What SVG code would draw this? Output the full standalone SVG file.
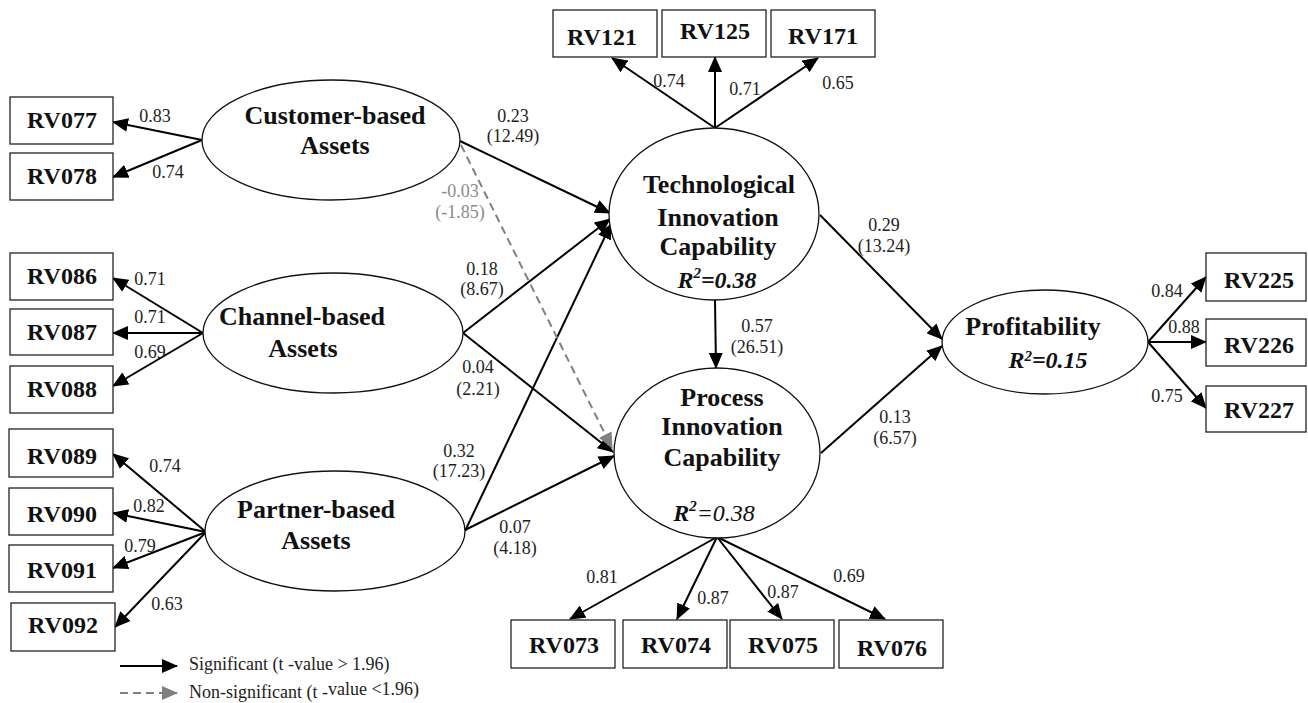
<svg xmlns="http://www.w3.org/2000/svg" width="1308" height="703" viewBox="0 0 1308 703">
  <style>
    .box { fill: #fff; stroke: #222; stroke-width: 1.3; }
    .lat { fill: #fff; stroke: #111; stroke-width: 1.3; }
    text { font-family: 'Liberation Serif', 'Tinos', 'Times New Roman', 'DejaVu Serif', serif; }
    .bt { font-weight: bold; font-size: 24px; fill: #111; text-anchor: middle; }
    .lt { font-weight: bold; font-size: 26px; fill: #111; text-anchor: middle; }
    .r2 { font-weight: bold; font-style: italic; font-size: 24px; fill: #111; text-anchor: middle; }
    .num { font-size: 18px; fill: #222; text-anchor: middle; }
    .ng { fill: #8a8a8a; }
    .leg { font-size: 18px; fill: #222; }
    .sol { stroke: #000; stroke-width: 2; fill: none; marker-end: url(#ah); }
    .dash { stroke: #808080; stroke-width: 2; fill: none; stroke-dasharray: 8 5; marker-end: url(#ahg); }
  </style>
  <defs>
    <marker id="ah" markerUnits="userSpaceOnUse" markerWidth="16" markerHeight="14" viewBox="0 0 16 14" refX="15" refY="7" orient="auto">
      <path d="M0,0 L16,7 L0,14 z" fill="#000"/>
    </marker>
    <marker id="ahg" markerUnits="userSpaceOnUse" markerWidth="16" markerHeight="14" viewBox="0 0 16 14" refX="15" refY="7" orient="auto">
      <path d="M0,0 L16,7 L0,14 z" fill="#808080"/>
    </marker>
  </defs>

  <!-- connectors -->
  <g id="connectors">
    <!-- measurement paths -->
    <line class="sol" x1="202" y1="140" x2="113" y2="122"/>
    <line class="sol" x1="202" y1="140" x2="113" y2="177"/>
    <line class="sol" x1="203" y1="333" x2="113" y2="278"/>
    <line class="sol" x1="203" y1="333" x2="113" y2="333"/>
    <line class="sol" x1="203" y1="333" x2="113" y2="386"/>
    <line class="sol" x1="206" y1="532" x2="113" y2="454"/>
    <line class="sol" x1="206" y1="532" x2="113" y2="513"/>
    <line class="sol" x1="206" y1="532" x2="113" y2="568"/>
    <line class="sol" x1="206" y1="532" x2="115" y2="627"/>
    <line class="sol" x1="715" y1="128" x2="612" y2="58"/>
    <line class="sol" x1="715" y1="128" x2="715" y2="57"/>
    <line class="sol" x1="715" y1="128" x2="818" y2="58"/>
    <line class="sol" x1="717" y1="537" x2="570" y2="619"/>
    <line class="sol" x1="717" y1="537" x2="677" y2="619"/>
    <line class="sol" x1="717" y1="537" x2="782" y2="619"/>
    <line class="sol" x1="717" y1="537" x2="885" y2="619"/>
    <line class="sol" x1="1148" y1="342" x2="1206" y2="277"/>
    <line class="sol" x1="1148" y1="342" x2="1206" y2="342"/>
    <line class="sol" x1="1148" y1="342" x2="1206" y2="408"/>
    <!-- structural paths -->
    <line class="sol" x1="460" y1="141" x2="610" y2="213"/>
    <line class="sol" x1="463" y1="333" x2="610" y2="219"/>
    <line class="sol" x1="465" y1="531" x2="611" y2="224"/>
    <line class="sol" x1="463" y1="333" x2="613" y2="452"/>
    <line class="sol" x1="465" y1="530" x2="614" y2="456"/>
    <line class="dash" x1="461" y1="145" x2="612" y2="448"/>
    <line class="sol" x1="715" y1="300" x2="716" y2="368"/>
    <line class="sol" x1="820" y1="215" x2="942" y2="339"/>
    <line class="sol" x1="821" y1="453" x2="942" y2="346"/>
    <!-- legend -->
    <line class="sol" x1="120" y1="666" x2="177" y2="666"/>
    <line class="dash" x1="120" y1="693" x2="177" y2="693" stroke-dasharray="7 4"/>
  </g>

  <!-- path coefficients -->
  <g id="loadings">
    <text class="num" x="155" y="122">0.83</text>
    <text class="num" x="168" y="178">0.74</text>
    <text class="num" x="150" y="285">0.71</text>
    <text class="num" x="150" y="323">0.71</text>
    <text class="num" x="150" y="358">0.69</text>
    <text class="num" x="165" y="472">0.74</text>
    <text class="num" x="149" y="512">0.82</text>
    <text class="num" x="140" y="552">0.79</text>
    <text class="num" x="167" y="610">0.63</text>
    <text class="num" x="669" y="87">0.74</text>
    <text class="num" x="745" y="95">0.71</text>
    <text class="num" x="838" y="89">0.65</text>
    <text class="num" x="602" y="583">0.81</text>
    <text class="num" x="713" y="604">0.87</text>
    <text class="num" x="783" y="598">0.87</text>
    <text class="num" x="849" y="582">0.69</text>
    <text class="num" x="1167" y="297">0.84</text>
    <text class="num" x="1184" y="333">0.88</text>
    <text class="num" x="1167" y="402">0.75</text>
  </g>
  <g id="coefficients">
    <text class="num" x="513" y="122">0.23</text>
    <text class="num" x="513" y="142">(12.49)</text>
    <text class="num ng" x="460" y="197">-0.03</text>
    <text class="num ng" x="460" y="218">(-1.85)</text>
    <text class="num" x="482" y="275">0.18</text>
    <text class="num" x="482" y="295">(8.67)</text>
    <text class="num" x="478" y="373">0.04</text>
    <text class="num" x="478" y="395">(2.21)</text>
    <text class="num" x="459" y="457">0.32</text>
    <text class="num" x="459" y="477">(17.23)</text>
    <text class="num" x="515" y="533">0.07</text>
    <text class="num" x="515" y="554">(4.18)</text>
    <text class="num" x="757" y="332">0.57</text>
    <text class="num" x="757" y="353">(26.51)</text>
    <text class="num" x="884" y="231">0.29</text>
    <text class="num" x="884" y="252">(13.24)</text>
    <text class="num" x="895" y="423">0.13</text>
    <text class="num" x="895" y="444">(6.57)</text>
  </g>

  <!-- latent constructs -->
  <g id="customer-assets">
    <ellipse class="lat" cx="331" cy="140" rx="129" ry="60"/>
    <text class="lt" x="335" y="124">Customer-based</text>
    <text class="lt" x="335" y="154">Assets</text>
  </g>
  <g id="channel-assets">
    <ellipse class="lat" cx="333" cy="333" rx="130" ry="60"/>
    <text class="lt" x="302" y="325">Channel-based</text>
    <text class="lt" x="303" y="357">Assets</text>
  </g>
  <g id="partner-assets">
    <ellipse class="lat" cx="335" cy="531" rx="130" ry="60"/>
    <text class="lt" x="316" y="518">Partner-based</text>
    <text class="lt" x="316" y="549">Assets</text>
  </g>
  <g id="tech-innovation">
    <ellipse class="lat" cx="714" cy="214" rx="105" ry="86"/>
    <text class="lt" x="719" y="193" font-size="28">Technological</text>
    <text class="lt" x="718" y="226">Innovation</text>
    <text class="lt" x="718" y="255">Capability</text>
    <text class="r2" x="717" y="288">R<tspan font-size="15" dy="-10">2</tspan><tspan dy="10">=0.38</tspan></text>
  </g>
  <g id="process-innovation">
    <ellipse class="lat" cx="717" cy="453" rx="103" ry="85"/>
    <text class="lt" x="722" y="406">Process</text>
    <text class="lt" x="722" y="435">Innovation</text>
    <text class="lt" x="722" y="466">Capability</text>
    <text class="r2" x="714" y="521">R<tspan font-size="15" dy="-10">2</tspan><tspan dy="10" font-weight="normal">=0.38</tspan></text>
  </g>
  <g id="profitability">
    <ellipse class="lat" cx="1045" cy="342" rx="103" ry="52"/>
    <text class="lt" x="1033" y="335">Profitability</text>
    <text class="r2" x="1048" y="368">R<tspan font-size="15" dy="-7">2</tspan><tspan dy="7">=0.15</tspan></text>
  </g>

  <!-- indicators -->
  <g id="rv077"><rect class="box" x="10" y="97" width="103" height="47"/><text class="bt" x="62" y="128">RV077</text></g>
  <g id="rv078"><rect class="box" x="10" y="153" width="103" height="47"/><text class="bt" x="62" y="184">RV078</text></g>
  <g id="rv086"><rect class="box" x="10" y="253" width="103" height="47"/><text class="bt" x="62" y="284">RV086</text></g>
  <g id="rv087"><rect class="box" x="10" y="309" width="103" height="46"/><text class="bt" x="62" y="340">RV087</text></g>
  <g id="rv088"><rect class="box" x="10" y="366" width="103" height="47"/><text class="bt" x="62" y="397">RV088</text></g>
  <g id="rv089"><rect class="box" x="9" y="429" width="104" height="48"/><text class="bt" x="62" y="464">RV089</text></g>
  <g id="rv090"><rect class="box" x="9" y="488" width="104" height="47"/><text class="bt" x="62" y="522">RV090</text></g>
  <g id="rv091"><rect class="box" x="9" y="545" width="104" height="47"/><text class="bt" x="62" y="578">RV091</text></g>
  <g id="rv092"><rect class="box" x="11" y="603" width="104" height="48"/><text class="bt" x="63" y="633">RV092</text></g>

  <g id="rv121"><rect class="box" x="553" y="10" width="104" height="47"/><text class="bt" x="602" y="45">RV121</text></g>
  <g id="rv125"><rect class="box" x="662" y="10" width="104" height="47"/><text class="bt" x="715" y="39">RV125</text></g>
  <g id="rv171"><rect class="box" x="771" y="10" width="104" height="47"/><text class="bt" x="823" y="44">RV171</text></g>

  <g id="rv073"><rect class="box" x="511" y="620" width="104" height="48"/><text class="bt" x="564" y="653">RV073</text></g>
  <g id="rv074"><rect class="box" x="623" y="620" width="104" height="48"/><text class="bt" x="676" y="653">RV074</text></g>
  <g id="rv075"><rect class="box" x="730" y="620" width="104" height="48"/><text class="bt" x="783" y="653">RV075</text></g>
  <g id="rv076"><rect class="box" x="839" y="620" width="104" height="48"/><text class="bt" x="892" y="656">RV076</text></g>

  <g id="rv225"><rect class="box" x="1206" y="253" width="100" height="48"/><text class="bt" x="1259" y="288">RV225</text></g>
  <g id="rv226"><rect class="box" x="1206" y="319" width="100" height="47"/><text class="bt" x="1259" y="353">RV226</text></g>
  <g id="rv227"><rect class="box" x="1206" y="386" width="100" height="46"/><text class="bt" x="1259" y="418">RV227</text></g>

  <!-- legend -->
  <g id="legend">
    <text class="leg" x="189" y="670">Significant (t -value &gt; 1.96)</text>
    <text class="leg" x="189" y="698">Non-significant (t -<tspan dy="-3">value &lt;1.96)</tspan></text>
  </g>
</svg>
